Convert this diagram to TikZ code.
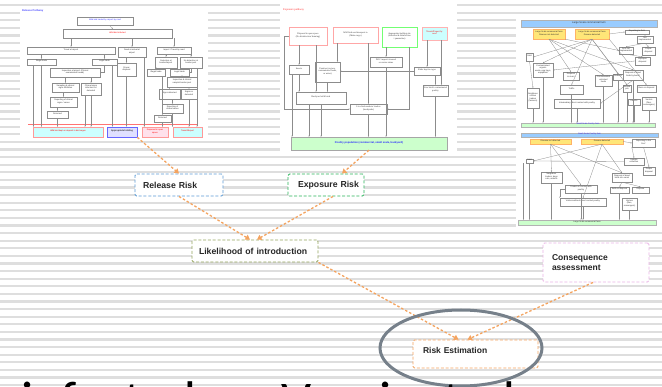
\documentclass[tikz,border=0pt]{standalone}
\usepackage{fontspec}
\setmainfont{Liberation Sans}
\newfontfamily\bigfont{Carlito}
\newfontfamily\thserif{Liberation Serif}
\usetikzlibrary{arrows.meta,fit,calc}

\definecolor{stripe}{RGB}{222,222,222}
\definecolor{flow}{RGB}{244,164,96}
\definecolor{relblue}{RGB}{91,155,213}
\definecolor{expgreen}{RGB}{40,180,90}
\definecolor{likgreen}{RGB}{150,165,95}
\definecolor{conspink}{RGB}{235,180,230}
\definecolor{ringgray}{RGB}{118,128,138}
\definecolor{hdrblue}{RGB}{153,204,255}
\definecolor{thyellow}{RGB}{255,230,120}
\definecolor{thgreen}{RGB}{204,255,204}
\definecolor{thcyan}{RGB}{204,255,255}
\definecolor{thpink}{RGB}{255,225,235}

\tikzset{
  tb/.style={draw=black!45, line width=0.35pt, fill=white, inner sep=0pt,
    font=\fontsize{2.1}{2.5}\selectfont, align=center, text=black!80},
  tbs/.style={tb, font=\thserif\fontsize{2.3}{2.7}\selectfont},
  tl/.style={draw=black!45, line width=0.3pt, -{Stealth[length=1.3pt,width=1.1pt]}},
  riskbox/.style={draw=#1, line width=0.9pt, dash pattern=on 3pt off 1.8pt,
    fill=white, rounded corners=1.5pt, align=left,
    font=\bfseries\fontsize{8.7}{10}\selectfont, text=black!85},
  flowarrow/.style={draw=flow, line width=1.3pt, dash pattern=on 2.5pt off 2pt,
    -{Triangle[width=5.5pt,length=4.5pt]}}
}

\begin{document}
\begin{tikzpicture}[x=1pt,y=-1pt]
\useasboundingbox (0,0) rectangle (662,387);
\clip (0,0) rectangle (662,387);

% striped backdrop
\fill[white] (0,0) rectangle (662,387);
\foreach \k in {0,...,50}
  \fill[stripe] (0,{4+7.6*\k}) rectangle (662,{6.3+7.6*\k});

% ---------------- release pathway panel ----------------
\fill[white] (20,6) rectangle (208,140);
\node[anchor=west, inner sep=0pt, font=\bfseries\fontsize{2.6}{3}\selectfont, text=blue!70] (rtitle) at (22,11) {Release Pathway};
\node[tb, text=blue!80, fit={(77,17) (133,25)}] (r1) {Wild bird traded by airport by road};
\node[tb, text=red, fit={(63,29) (172,38)}] (r2) {Wild bird infected};
\node[tb, fit={(27,47) (115,54)}] (r3) {Travel at airport};
\node[tb, fit={(118,47) (146,57)}] (r4) {Dead at arrival at\\airport};
\node[tb, fit={(157,47) (191,54)}] (r5) {Import / Travel by road};
\node[tb, fit={(27,59) (56,65)}] (r6) {Illegal trade};
\node[tb, fit={(92,59) (117,65)}] (r7) {Legal trade};
\node[tb, fit={(117,63) (136,76)}] (r8) {Proper\\disposal};
\node[tb, fit={(155,57) (177,68)}] (r9) {Detection at\\border/airport};
\node[tb, fit={(180,57) (202,68)}] (r10) {No detection at\\border post};
\node[tb, fit={(50,68) (100,77)}] (r11) {Inspection at airport (Clinical\\examination/ swab)};
\node[tb, fit={(147,69) (165,76)}] (r12) {Illegal trade};
\node[tb, fit={(170,69) (189,76)}] (r13) {Legal trade};
\node[tb, fit={(167,77) (197,87)}] (r14) {Inspection \& clinical\\sample/ border post};
\node[tb, fit={(52,83) (79,92)}] (r15) {Sampling \& clinical\\signs inhibition};
\node[tb, fit={(81,83) (101,95)}] (r16) {Clinical signs\\infection not\\detected};
\node[tb, fit={(159,89) (180,99)}] (r17) {Signs detected};
\node[tb, fit={(181,89) (197,99)}] (r18) {Signs no\\detected};
\node[tb, fit={(50,97) (77,107)}] (r19) {Reporting of clinical\\signs / cases};
\node[tb, fit={(162,104) (183,113)}] (r20) {Reporting of\\clinical cases};
\node[tb, fit={(47,111) (68,118)}] (r21) {Returned};
\node[tb, fit={(154,115) (171,122)}] (r22) {Returned};
\draw[red!55, line width=0.4pt] (28,124) -- (198,124);
\node[tb, draw=red!40, fill=thcyan, text=red, fit={(33,127) (103,137)}] (b1) {Wild bird kept on deposit in bird cages};
\node[tb, draw=blue!60, line width=0.6pt, fill=blue!12, font=\bfseries\fontsize{2.3}{2.7}\selectfont, fit={(107,127) (137,137)}] (b2) {Appropriate holding};
\node[tb, draw=red!40, fill=thpink, text=red, fit={(142,127) (168,137)}] (b3) {Disposed in open\\space};
\node[tb, draw=red!40, fill=thcyan, text=red, fit={(173,127) (202,137)}] (b4) {Transit/Export};

\draw[tl] (r1) -- (r2);
\draw[tl] (r2.south -| r3) -- (r3.north);
\draw[tl] (r2.south -| r4) -- (r4.north);
\draw[tl] (r2.south -| r5) -- (r5.north);
\draw[tl] (r3.south -| r6) -- (r6.north);
\draw[tl] (r3.south -| r7) -- (r7.north);
\draw[tl] (r4.south -| r8) -- (r8.north);
\draw[tl] (r5.south -| r9) -- (r9.north);
\draw[tl] (r5.south -| r10) -- (r10.north);
\draw[tl] (r7.south) |- (r11.east);
\draw[tl] (r11.south -| r15) -- (r15.north);
\draw[tl] (r11.south -| r16) -- (r16.north);
\draw[tl] (r15.south -| r19) -- (r19.north);
\draw[tl] (r19.south -| r21) -- (r21.north);
\draw[tl] (r9.south -| r12) -- (r12.north);
\draw[tl] (r10.south) |- (r13.east);
\draw[tl] (r13.south -| r14) -- (r14.north);
\draw[tl] (r14.south -| r17) -- (r17.north);
\draw[tl] (r14.south -| r18) -- (r18.north);
\draw[tl] (r17.south -| r20) -- (r20.north);
\draw[tl] (r12.south -| r22) -- (r22.north);
\draw[tl] (r6.south) -- (r6.south |- b1.north);
\draw[tl] ([xshift=-8pt]r6.south) -- ([xshift=-8pt]r6.south |- b1.north);
\draw[tl] (r21.south) -- (r21.south |- b1.north);
\draw[tl] (r16.south) -- (r16.south |- b1.north);
\draw[tl] ([xshift=-6pt]r16.south) -- ([xshift=-6pt]r16.south |- b1.north);
\draw[tl] ([xshift=8pt]r7.south) -- ([xshift=8pt]r7.south |- b2.north);
\draw[tl] (r8.south) -- (r8.south |- b2.north);
\draw[tl] ([xshift=-2pt]r4.south east) -- ([xshift=-2pt]r4.south east |- b3.north);
\draw[tl] (r22.south) -- (r22.south |- b3.north);
\draw[tl] (r20.south) -- (r20.south |- b4.north);
\draw[tl] (r18.south) -- (r18.south |- b4.north);
\draw[tl] ([xshift=6pt]r10.south) -- ([xshift=6pt]r10.south |- b4.north);

% ---------------- exposure pathway panel ----------------
\fill[white] (280,4) rectangle (457,155);
\node[anchor=west, inner sep=0pt, font=\thserif\fontsize{2.8}{3.2}\selectfont, text=red!80] (etitle) at (283,10) {Exposure pathway};
\node[tbs, draw=red!35, fit={(289,27) (327,45)}] (e1) {Disposal in open space\\(No disinfection/ burning)};
\node[tbs, draw=red!35, fit={(333,27) (378,43)}] (e2) {Wild bird sent/transport to\\(Main cargo)};
\node[tbs, draw=green!55, fit={(382,27) (417,47)}] (e3) {Appropriate holding site\\(isolation \& disinfection\\/ quarantine)};
\node[tbs, draw=red!30, fill=thcyan, text=red, fit={(422,27) (447,40)}] (e4) {Transit/Export by\\road};
\node[tbs, fit={(289,65) (309,74)}] (e5) {Insects};
\node[tbs, fit={(315,62) (340,82)}] (e6) {Fomites (vectors,\\contaminated feeds,\\or water)};
\node[tbs, fit={(370,57) (402,67)}] (e7) {DOC import/ stressed\\or carrier status};
\node[tbs, fit={(414,67) (440,75)}] (e8) {Birds kept in cages};
\node[tbs, fit={(423,85) (448,96)}] (e9) {Live birds/ contaminated\\poultry};
\node[tbs, fit={(296,92) (346,104)}] (e10) {Backyard wild birds};
\node[tbs, fit={(350,104) (387,114)}] (e11) {Live bird markets/ traders\\(backyards)};
\node[tb, fill=thgreen, draw=black!35, text=blue!85, font=\bfseries\fontsize{2.6}{3}\selectfont, fit={(291,137) (447,150)}] (e12) {Poultry population (commercial, small scale, backyard)};

\draw[tl] (e1.south -| e5) -- (e5.north);
\draw[tl] ([xshift=8pt]e1.south) -- ([xshift=8pt]e1.south |- e10.north);
\draw[tl] ([xshift=-18pt]e2.south) -- ([xshift=-18pt]e2.south |- e6.north);
\draw[tl] (e2.south -| e11) -- (e11.north);
\draw[tl] (e3.south -| e7) -- (e7.north);
\draw[tl] ([xshift=10pt]e3.south) |- (e11.east);
\draw[tl] (e4.south -| e8) -- (e8.north);
\draw[tl] ([xshift=7pt]e4.south) -- ([xshift=7pt]e4.south |- e9.north);
\draw[tl] (e8.west) -- (e8.west -| e6.east);
\draw[tl] (e8.south -| e9) -- (e9.north);
\draw[tl] (e5.south) -- (e5.south |- e10.north);
\draw[tl] (e6.south) -- (e6.south |- e10.north);
\draw[tl] (e1.west) -- ++(-5,0) |- (e11.west);
\draw[tl] (e10.south) -- (e10.south |- e12.north);
\draw[tl] (e11.south) -- (e11.south |- e12.north);
\draw[tl] (e7.south) -- (e7.south |- e12.north);
\draw[tl] (e9.south) -- (e9.south |- e12.north);
\draw[tl] ([xshift=-7pt]e5.south) -- ([xshift=-7pt]e5.south |- e12.north);
\draw[tl] ([xshift=-12pt]e10.south) -- ([xshift=-12pt]e10.south |- e12.north);

% ---------------- farm type panel ----------------
\fill[white] (516,17) rectangle (662,228);
\node[tb, fill=hdrblue, draw=black!30, fit={(521,20) (657,27)}, font=\fontsize{2.6}{3}\selectfont] (h1) {Large Scale commercial farm};
\node[tb, fill=thyellow, draw=orange!60, fit={(533,29) (565,39)}] (y1) {Large Scale commercial farm\\Disease not detected};
\node[tb, fill=thyellow, draw=orange!60, fit={(575,29) (609,39)}] (y2) {Large Scale commercial farm\\Disease detected};
\node[tb, fit={(625,30) (649,34)}] (n1) {Reporting to DoV};
\node[tb, fit={(637,36) (653,43)}] (n2) {Not\\implemented};
\node[tb, fit={(619,47) (633,54)}] (n3) {DoV not\\implemented};
\node[tb, fit={(642,47) (655,55)}] (n4) {Proper\\disposal};
\node[tb, fit={(526,53) (533,61)}] (n5) {Sold};
\node[tb, fit={(635,57) (650,65)}] (n6) {Improper\\disposal};
\node[tb, fit={(533,63) (553,77)}] (n7) {Contaminated organic\\waste, egg trays,\\equipment};
\node[tb, fit={(563,72) (579,80)}] (n8) {Disposal\\in rivers};
\node[tb, fit={(595,75) (612,86)}] (n9) {Contaminated\\vehicles/\\feeds};
\node[tb, fit={(613,74) (623,80)}] (n10) {Rodents};
\node[tb, fit={(623,70) (643,80)}] (n11) {Disposal of dead\\birds by burial};
\node[tb, fit={(560,85) (583,94)}] (n12) {Traffic};
\node[tb, fit={(527,88) (539,108)}] (n13) {Neighbour\\visitors\\traders\\(farmers)};
\node[tb, fit={(623,85) (631,92)}] (n14) {Closed\\pits};
\node[tb, fit={(637,85) (656,92)}] (n15) {Burn on disposal};
\node[tb, fit={(628,99) (640,105)}] (n16) {Insects};
\node[tb, fit={(642,97) (656,110)}] (n17) {Vectors\\(flies,\\scavengers)};
\node[tb, fit={(554,99) (600,108)}] (n18) {Intermediary direct contact with poultry};
\node[tb, fill=thgreen, draw=black!30, text=blue!80, fit={(521,123) (655,127)}] (g1) {Small Scale Poultry farm};

\draw[tl] (y2.east) -- (n1.west);
\draw[tl] (n1.south -| n2) -- (n2.north);
\draw[tl] (n2.south) -- (n3.north);
\draw[tl] (n2.south) -- (n4.north);
\draw[tl] (n3.south) -- (n6.north);
\draw[tl] (y1.south) -- (n9.north);
\draw[tl] (y1.south) -- (n11.north);
\draw[tl] (y1.south) -- (n8.north);
\draw[tl] (y1.south east) -- (n3.west);
\draw[tl] (y2.south) -- (n7.north);
\draw[tl] (y2.south) -- (n5.east);
\draw[tl] (y2.south) -- (n10.north);
\draw[tl] (y2.south) -- (n12.north);
\draw[tl] (y2.south) -- (n14.north);
\draw[tl] (y2.south east) -- (n15.north);
\draw[tl] (n6.west) -- (n7.east);
\draw[tl] (n5.south) -- (n13.north);
\draw[tl] (n11.south) -- (n18.east);
\foreach \n in {n13,n7,n12,n18,n9,n10,n11,n14,n16,n17}
  \draw[tl] (\n.south) -- (\n.south |- g1.north);

\node[tb, fill=hdrblue, draw=black!30, text=blue!80, fit={(521,133) (658,137)}] (h2) {Small Scale Poultry farm};
\node[tb, fill=thyellow, draw=orange!60, fit={(530,139) (571,144)}] (y3) {Disease not detected};
\node[tb, fill=thyellow, draw=orange!60, fit={(581,139) (623,144)}] (y4) {Disease detected};
\node[tb, fit={(632,139) (655,147)}] (m1) {Reporting to the\\DoV};
\node[tb, fit={(526,159) (533,163)}] (m2) {Sold};
\node[tb, fit={(624,158) (644,165)}] (m3) {Sample\\collection};
\node[tb, fit={(643,167) (655,175)}] (m4) {Proper\\disposal};
\node[tb, fit={(541,172) (562,183)}] (m5) {Neighbour\\traders, dogs\\cats, rodents};
\node[tb, fit={(612,173) (632,182)}] (m6) {Disposal of dead\\birds into canal};
\node[tb, fit={(565,185) (597,193)}] (m7) {Traders in contact with\\poultry};
\node[tb, fit={(610,187) (629,193)}] (m8) {Sold on disposal};
\node[tb, fit={(632,187) (649,193)}] (m9) {Dispose};
\node[tb, fit={(622,198) (637,210)}] (m10) {Vectors\\(flies,\\scavengers)};
\node[tb, fit={(560,198) (606,206)}] (m11) {Visitors without direct contact poultry};
\node[tb, fill=thgreen, draw=black!30, fit={(518,220) (656,225)}] (g2) {Large Scale commercial farm};

\draw[tl] (y4.east) -- (m1.west);
\draw[tl] (m1.south) -- (m4.north);
\draw[tl] (m1.south west) -- (m3.north);
\draw[tl] (m3.west) -- (m2.east);
\draw[tl] (y3.south) -- (m5.north);
\draw[tl] (y3.south) -- (m6.north);
\draw[tl] (y3.south) -- (m7.north);
\draw[tl] (y4.south) -- (m2.east);
\draw[tl] (y4.south) -- (m6.north);
\draw[tl] (y4.south) -- (m11.north);
\draw[tl] (m6.south) -- (m8.north);
\draw[tl] (m6.south) -- (m9.north);
\draw[tl] (m7.west) -| (m11.north west);
\foreach \n in {m2,m5,m7,m11,m8,m10}
  \draw[tl] (\n.south) -- (\n.south |- g2.north);
\draw[tl] ([xshift=-6pt]m2.south) -- ([xshift=-6pt]m2.south |- g2.north);

% ---------------- risk assessment flow ----------------
\node[riskbox=relblue, inner xsep=8pt, text width=72pt, minimum height=22pt] (rr) at (179,185) {Release~Risk};
\node[riskbox=expgreen, inner xsep=10pt, text width=56pt, minimum height=22pt] (ex) at (326,185) {Exposure~Risk};
\node[riskbox=likgreen, inner xsep=7pt, text width=112pt, minimum height=22pt] (li) at (255,251) {Likelihood~of~introduction};
\node[riskbox=conspink, inner xsep=9pt, text width=88pt, minimum height=39pt, text depth=10pt,
      font=\bfseries\fontsize{8.5}{10}\selectfont] (co) at (596,262.5) {Consequence\\assessment};
\node[riskbox=flow, inner xsep=10pt, text width=105pt, minimum height=28pt, text depth=8pt,
      font=\bfseries\fontsize{8.5}{10}\selectfont] (re) at (475.5,354) {Risk~Estimation};

\draw[flowarrow] (b2.south east) -- (rr.north);
\draw[flowarrow] (e12.south) -- ([xshift=16pt]ex.north);
\draw[flowarrow] (rr.south) -- ([xshift=-5pt]li.north);
\draw[flowarrow] ([xshift=7pt]ex.south) -- ([xshift=2pt]li.north);
\draw[flowarrow] (li.south east) -- ([xshift=-17pt]re.north);
\draw[flowarrow] ([xshift=-3pt]co.south) -- ([xshift=-8pt]re.north);

% highlight ring round the estimate
\draw[ringgray, line width=3pt] (461,348) ellipse [x radius=81pt, y radius=38pt];

% slide text running on below
\node[anchor=base west, inner sep=0pt, font=\bigfont\fontsize{53}{60}\selectfont, text=black] (cut) at (21,419) {infected vs. Vaccinated};
\end{tikzpicture}
\end{document}
